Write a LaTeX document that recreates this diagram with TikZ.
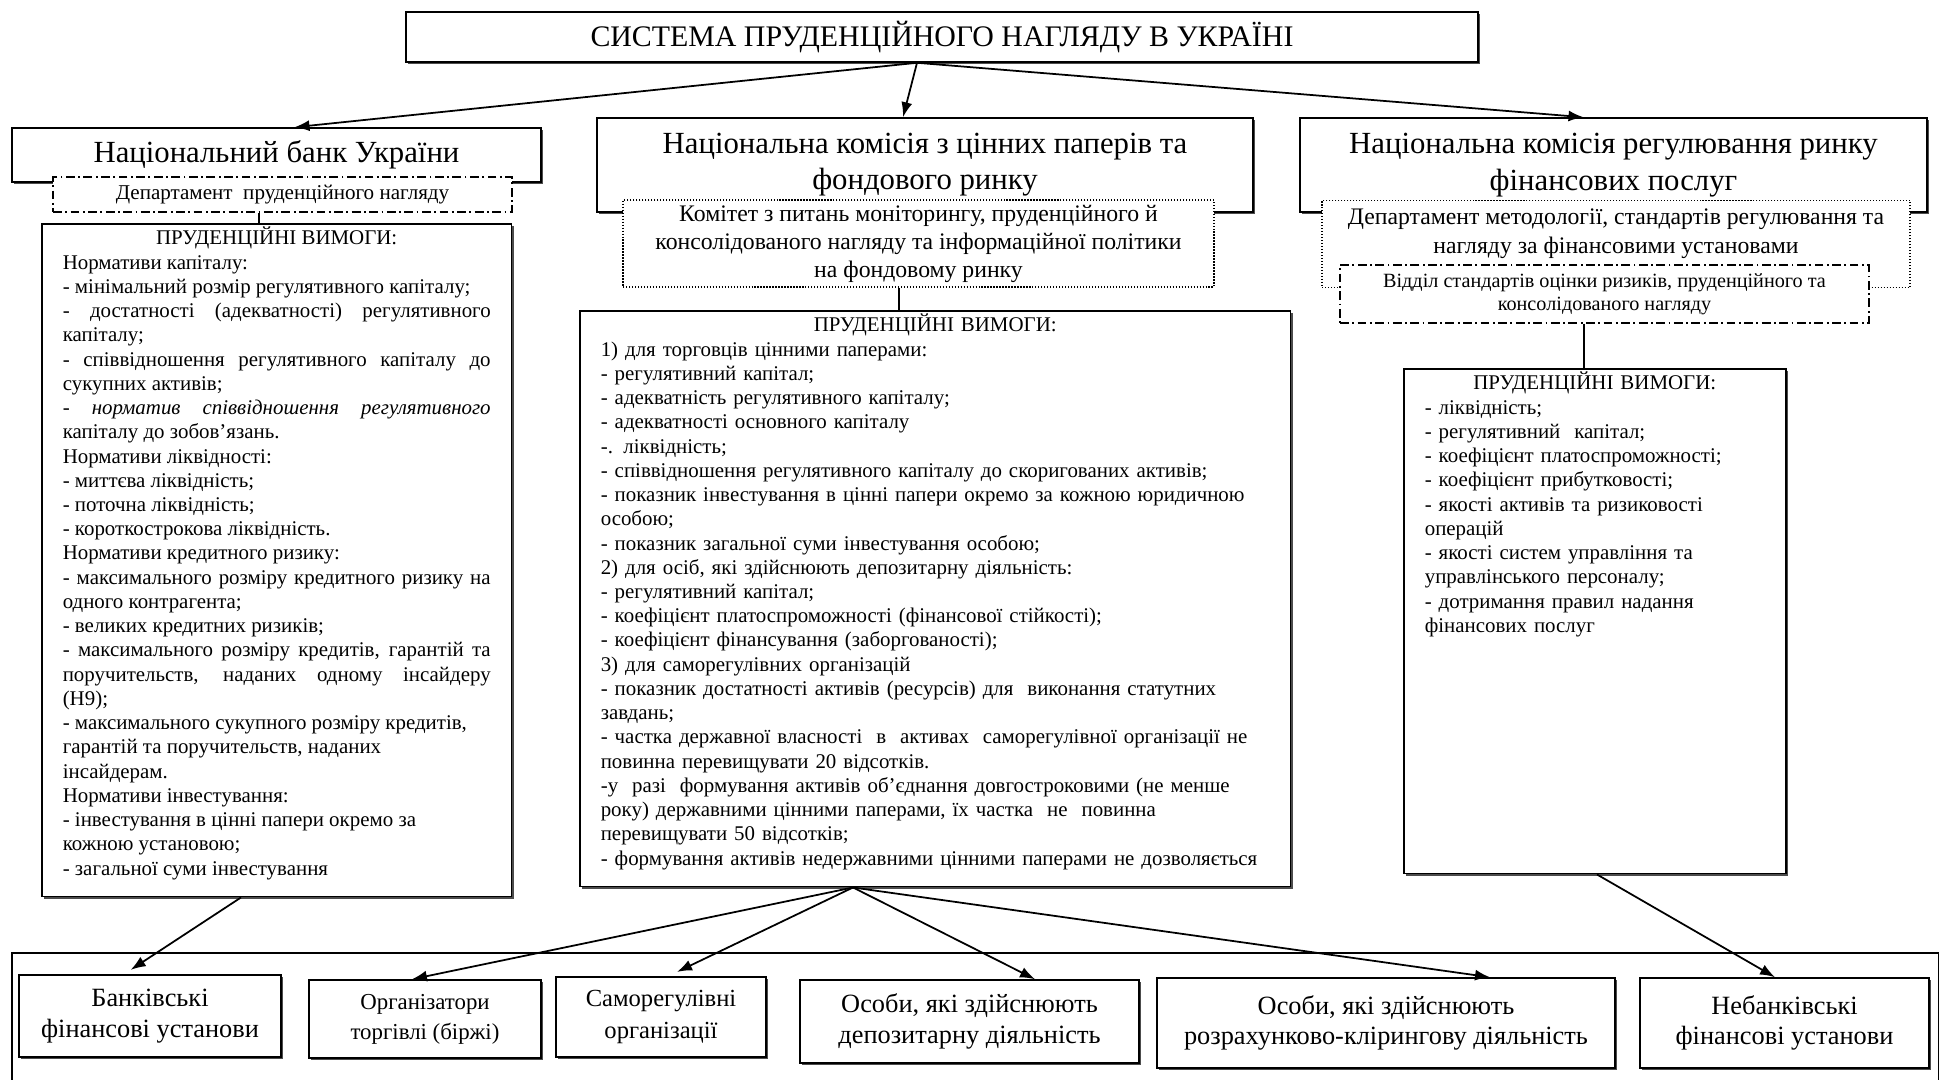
\documentclass[tikz,border=0pt]{standalone}
\usepackage{fontspec}
\setmainfont{Liberation Serif}
\usetikzlibrary{arrows.meta,shadows}
\newcommand\fsz[2]{\fontsize{#1}{#2}\selectfont}

\begin{document}
\begin{tikzpicture}[
        x=0.02cm, y=-0.02cm,
        box/.style={rectangle, draw, line width=0.9pt, fill=white, align=center, inner sep=1pt,
            drop shadow={shadow xshift=1.2pt, shadow yshift=-1.2pt, opacity=1, fill=black!70}},
        dotbox/.style={rectangle, draw, densely dotted, line width=0.7pt, fill=white, align=center, inner sep=1pt},
        dashbox/.style={rectangle, draw, line width=0.7pt, fill=white, align=center, inner sep=1pt,
            dash pattern=on 5pt off 2pt on 1pt off 2pt},
        reqbox/.style={box, anchor=north west, inner xsep=0.42cm, inner ysep=0.1cm, text height=0.32cm, font=\fsz{11.9}{13.8}},
        arrow/.style={-{Latex[length=3mm,width=2.2mm]}, line width=1pt},
        link/.style={line width=0.8pt}
    ]
    \useasboundingbox (0,0) rectangle (1943,1079);

    % Title
    \node[box, minimum width=21.44cm, minimum height=1cm, font=\fsz{17}{20}] (title) at (942,37)
        {СИСТЕМА ПРУДЕНЦІЙНОГО НАГЛЯДУ В УКРАЇНІ};

    % Regulators
    \node[box, minimum width=10.58cm, minimum height=1.08cm, font=\fsz{17.5}{21}] (nbu) at (276.5,155)
        {Національний банк України};
    \node[box, minimum width=13.12cm, minimum height=1.88cm, font=\fsz{17.5}{20.5}] (nkcpfr) at (925,165)
        {Національна комісія з цінних паперів та\\ фондового ринку};
    \node[box, minimum width=12.54cm, minimum height=1.88cm, font=\fsz{17.5}{21}] (nkrfp) at (1613.5,165)
        {Національна комісія регулювання ринку\\ фінансових послуг};

    % Departments
    \node[dashbox, minimum width=9.18cm, minimum height=0.7cm, font=\fsz{12}{14}] (nbudept) at (282.5,194.5)
        {Департамент \ пруденційного нагляду};
    \node[dotbox, minimum width=11.82cm, minimum height=1.74cm, font=\fsz{13.5}{15.9}] (committee) at (918.5,243.5)
        {Комітет з питань моніторингу, пруденційного й\\ консолідованого нагляду та інформаційної політики\\ на фондовому ринку};
    \node[dotbox, anchor=north, minimum width=11.76cm, inner ysep=0.08cm, text height=0.98cm, text depth=0.6cm,
        font=\fsz{13.5}{16.4}] (nkrfpdept) at (1616,200)
        {Департамент методології, стандартів регулювання та\\ нагляду за фінансовими установами};
    \node[dashbox, minimum width=10.58cm, minimum height=1.16cm, font=\fsz{11.5}{13}] (subdept) at (1604.5,294)
        {Відділ стандартів оцінки ризиків, пруденційного та\\ консолідованого нагляду};

    % Requirements
    \node[reqbox, text width=8.56cm, align=justify, text depth=12.94cm] (leftreq) at (41,223) {%
        \centerline{ПРУДЕНЦІЙНІ ВИМОГИ:}
        Нормативи капіталу:\newline
        - мінімальний розмір регулятивного капіталу;\newline
        - \ достатності \ (адекватності) \ регулятивного\linebreak
        капіталу;\newline
        - співвідношення регулятивного капіталу до\linebreak
        сукупних активів;\newline
        - \textit{норматив співвідношення регулятивного}\linebreak
        капіталу до зобов’язань.\newline
        Нормативи ліквідності:\newline
        - миттєва ліквідність;\newline
        - поточна ліквідність;\newline
        - короткострокова ліквідність.\newline
        Нормативи кредитного ризику:\newline
        - максимального розміру кредитного ризику на\linebreak
        одного контрагента;\newline
        - великих кредитних ризиків;\newline
        - максимального розміру кредитів, гарантій та\linebreak
        поручительств, наданих одному інсайдеру\linebreak
        (Н9);\newline
        - максимального сукупного розміру кредитів,\newline
        гарантій та поручительств, наданих\newline
        інсайдерам.\newline
        Нормативи інвестування:\newline
        - інвестування в цінні папери окремо за\newline
        кожною установою;\newline
        - загальної суми інвестування};
    \node[reqbox, text width=13.38cm, align=left, text depth=11cm] (midreq) at (579,310) {%
        \centerline{ПРУДЕНЦІЙНІ ВИМОГИ:}
        1) для торговців цінними паперами:\\
        - регулятивний капітал;\\
        - адекватність регулятивного капіталу;\\
        - адекватності основного капіталу\\
        -. ліквідність;\\
        - співвідношення регулятивного капіталу до скоригованих активів;\\
        - показник інвестування в цінні папери окремо за кожною юридичною\\
        особою;\\
        - показник загальної суми інвестування особою;\\
        2) для осіб, які здійснюють депозитарну діяльність:\\
        - регулятивний капітал;\\
        - коефіцієнт платоспроможності (фінансової стійкості);\\
        - коефіцієнт фінансування (заборгованості);\\
        3) для саморегулівних організацій\\
        - показник достатності активів (ресурсів) для \ виконання статутних\\
        завдань;\\
        - частка державної власності \ в \ активах \ саморегулівної організації не\\
        повинна перевищувати 20 відсотків.\\
        -у \ разі \ формування активів об'єднання довгостроковими (не менше\\
        року) державними цінними паперами, їх частка \ не \ повинна\\
        перевищувати 50 відсотків;\\
        - формування активів недержавними цінними паперами не дозволяється};
    \node[reqbox, text width=6.8cm, align=left, text depth=9.58cm] (rightreq) at (1403,368) {%
        \centerline{ПРУДЕНЦІЙНІ ВИМОГИ:}
        - ліквідність;\\
        - регулятивний \ капітал;\\
        - коефіцієнт платоспроможності;\\
        - коефіцієнт прибутковості;\\
        - якості активів та ризиковості\\
        операцій\\
        - якості систем управління та\\
        управлінського персоналу;\\
        - дотримання правил надання\\
        фінансових послуг};

    % Supervised institutions
    \draw[line width=0.6pt] (12,1090) -- (12,953) -- (1938,953) -- (1938,1090);
    \node[box, minimum width=5.24cm, minimum height=1.64cm, font=\fsz{15}{18}] (bank) at (150,1016)
        {Банківські\\ фінансові установи};
    \node[box, minimum width=4.64cm, minimum height=1.56cm, font=\fsz{13}{17}] (exch) at (425,1019)
        {Організатори\\ торгівлі (біржі)};
    \node[box, minimum width=4.2cm, minimum height=1.6cm, font=\fsz{14}{18}] (sro) at (661,1017)
        {Саморегулівні\\ організації};
    \node[box, minimum width=6.78cm, minimum height=1.66cm, font=\fsz{15}{18}] (depos) at (969.5,1021.5)
        {Особи, які здійснюють\\ депозитарну діяльність};
    \node[box, minimum width=9.16cm, minimum height=1.8cm, font=\fsz{15}{17}] (clear) at (1386,1023)
        {Особи, які здійснюють\\ розрахунково-клірингову діяльність};
    \node[box, minimum width=5.78cm, minimum height=1.8cm, font=\fsz{15}{17}] (nonbank) at (1784.5,1023)
        {Небанківські\\ фінансові установи};

    % Arrows
    \draw[arrow] ([xshift=-0.5cm]title.south) -- ([xshift=0.36cm]nbu.north);
    \draw[arrow] ([xshift=-0.5cm]title.south) -- ([xshift=-0.44cm]nkcpfr.north);
    \draw[arrow] ([xshift=-0.5cm]title.south) -- ([xshift=-0.6cm]nkrfp.north);
    \draw[link] (nbudept.south -| 259,0) -- (leftreq.north -| 259,0);
    \draw[link] (committee.south -| 899,0) -- (midreq.north -| 899,0);
    \draw[link] (subdept.south -| 1584,0) -- (rightreq.north -| 1584,0);
    \draw[arrow, shorten >=0.16cm] (leftreq.south -| 241,0) -- (bank.north -| 124,0);
    \draw[arrow] (midreq.south -| 853,0) -- (exch.north -| 412,0);
    \draw[arrow, shorten >=0.2cm] (midreq.south -| 853,0) -- (sro.north -| 668,0);
    \draw[arrow] (midreq.south -| 853,0) -- (depos.north -| 1035,0);
    \draw[arrow] (midreq.south -| 853,0) -- (clear.north -| 1490,0);
    \draw[arrow] (rightreq.south -| 1597,0) -- (nonbank.north -| 1775,0);
\end{tikzpicture}
\end{document}
